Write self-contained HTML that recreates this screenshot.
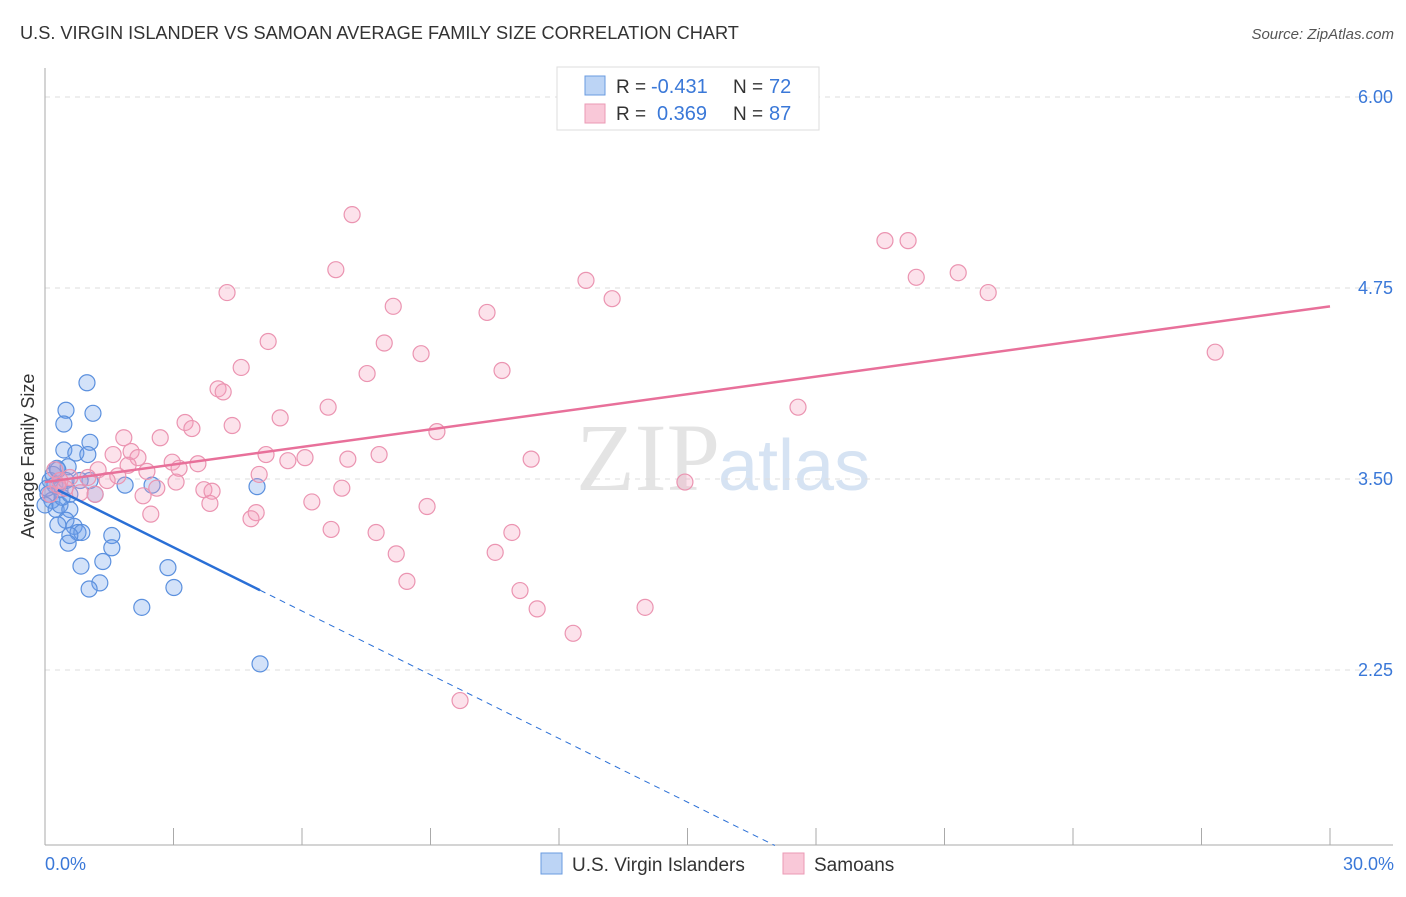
<!DOCTYPE html>
<html><head><meta charset="utf-8"><style>
body{margin:0;background:#fff;font-family:"Liberation Sans",sans-serif}
</style></head><body>
<svg id="chart" width="1406" height="892" xmlns="http://www.w3.org/2000/svg">
<text x="20" y="39" font-size="18.2" fill="#333">U.S. VIRGIN ISLANDER VS SAMOAN AVERAGE FAMILY SIZE CORRELATION CHART</text>
<text x="1394" y="39" font-size="15" fill="#555" font-style="italic" text-anchor="end">Source: ZipAtlas.com</text>
<text x="720" y="490" font-size="96" fill="#e4e4e4" text-anchor="end" font-family="Liberation Serif">ZIP</text>
<text x="718" y="490" font-size="72" fill="#d6e3f3">atlas</text>
<g id="grid"></g><g id="axes"></g><g id="pts"></g><g id="lines"></g>
<text transform="translate(34,456) rotate(-90)" font-size="18" fill="#333" text-anchor="middle">Average Family Size</text>
<text x="45" y="870" font-size="18" fill="#3a78d8">0.0%</text>
<text x="1394" y="870" font-size="18" fill="#3a78d8" text-anchor="end">30.0%</text>
<g>
<rect x="557" y="67" width="262" height="63" fill="#fff" stroke="#ddd"/>
<rect x="585" y="76" width="20" height="19" fill="#bcd4f5" stroke="#6a9be0"/>
<rect x="585" y="104" width="20" height="19" fill="#f9c8d8" stroke="#eb9ab5"/>
<text x="616" y="93" font-size="19" fill="#333">R =</text>
<text x="651" y="93" font-size="20" fill="#3a78d8">-0.431</text>
<text x="733" y="93" font-size="19" fill="#333">N =</text>
<text x="769" y="93" font-size="20" fill="#3a78d8">72</text>
<text x="616" y="120" font-size="19" fill="#333">R =</text>
<text x="657" y="120" font-size="20" fill="#3a78d8">0.369</text>
<text x="733" y="120" font-size="19" fill="#333">N =</text>
<text x="769" y="120" font-size="20" fill="#3a78d8">87</text>
</g>
<g>
<rect x="541" y="853" width="21" height="21" fill="#bcd4f5" stroke="#6a9be0"/>
<text x="572" y="871" font-size="19" fill="#333">U.S. Virgin Islanders</text>
<rect x="783" y="853" width="21" height="21" fill="#f9c8d8" stroke="#eb9ab5"/>
<text x="814" y="871" font-size="19" fill="#333">Samoans</text>
</g>
</svg>
<script>
const yTicks=[6.00,4.75,3.50,2.25];
const xTickVals=[0,3,6,9,12,15,18,21,24,27,30];
const blueX=[0.98,0.49,1.12,0.44,1.05,0.44,0.28,0.54,0.72,1.0,0.12,0.23,0.35,0.07,0.16,0.0,0.26,0.35,0.58,0.49,0.30,0.68,0.77,0.86,0.58,0.54,1.56,1.56,1.35,0.84,2.87,1.28,1.03,3.01,2.26,5.02,1.87,2.50,4.95,1.05,1.17,0.82,0.05,0.19,0.40,0.58,0.30,0.49];
const blueY=[4.13,3.95,3.93,3.86,3.74,3.69,3.57,3.58,3.67,3.66,3.49,3.46,3.43,3.40,3.36,3.33,3.30,3.33,3.30,3.23,3.20,3.19,3.15,3.15,3.13,3.08,3.13,3.05,2.96,2.93,2.92,2.82,2.78,2.79,2.66,2.29,3.46,3.46,3.45,3.49,3.40,3.49,3.44,3.53,3.38,3.40,3.56,3.49];
const pinkX=[7.17,6.79,4.25,8.13,5.21,7.92,8.78,4.58,7.52,4.04,4.16,4.37,3.27,3.43,2.69,1.84,2.01,2.17,1.59,5.49,6.61,5.16,2.97,3.57,3.13,2.38,1.94,1.24,1.70,1.45,1.0,0.58,0.82,1.17,2.61,3.06,3.71,3.90,3.85,2.29,2.47,5.00,4.93,4.81,5.67,6.07,7.07,7.80,6.23,6.93,6.68,7.73,8.20,8.45,8.92,9.15,10.32,10.67,11.35,10.90,10.51,11.09,11.49,12.33,14.01,9.69,12.63,13.24,14.94,17.58,19.61,20.15,20.34,21.32,22.02,27.32,0.23,0.35,0.47,0.12,0.30];
const pinkY=[5.23,4.87,4.72,4.63,4.40,4.39,4.32,4.23,4.19,4.09,4.07,3.85,3.87,3.83,3.77,3.77,3.68,3.64,3.66,3.90,3.97,3.66,3.61,3.60,3.57,3.55,3.59,3.56,3.52,3.49,3.51,3.51,3.41,3.40,3.44,3.48,3.43,3.42,3.34,3.39,3.27,3.53,3.28,3.24,3.62,3.64,3.63,3.66,3.35,3.44,3.17,3.15,3.01,2.83,3.32,3.81,4.59,4.21,3.63,3.15,3.02,2.77,2.65,2.49,2.66,2.05,4.80,4.68,3.48,3.97,5.06,5.06,4.82,4.85,4.72,4.33,3.56,3.49,3.44,3.40,3.46];
const pinkTrend=[3.48,4.63];
const blueTrend=[3.47,-0.139];
const blueSolidEnd=5.02, blueDashEnd=17.04;

const NS="http://www.w3.org/2000/svg";
const X=v=>45+v*(1285/30);
const Y=v=>97+(6-v)*152.8;
function mk(tag,attrs,parent){const e=document.createElementNS(NS,tag);for(const k in attrs)e.setAttribute(k,attrs[k]);document.getElementById(parent).appendChild(e);return e;}
yTicks.forEach(t=>{
 const l=mk('line',{x1:45,x2:1393,y1:Y(t),y2:Y(t),stroke:'#ddd','stroke-dasharray':'5,5'},'grid');
 
 
 const tx=mk('text',{x:1393,y:Y(t)+6,'font-size':18,fill:'#3a78d8','text-anchor':'end'},'grid');
 tx.textContent=t.toFixed(2);
 
 
});
let a=mk('line',{x1:45,x2:45,y1:68,y2:845,stroke:'#aaa'},'axes');


a=mk('line',{x1:45,x2:1393,y1:845,y2:845,stroke:'#aaa'},'axes');


xTickVals.forEach(t=>{
 const l=mk('line',{x1:X(t),x2:X(t),y1:828,y2:845,stroke:'#aaa'},'axes');
 
 
});
blueX.forEach((x,i)=>{
 const c=mk('circle',{cx:X(x),cy:Y(blueY[i]),r:8,fill:'rgba(110,160,235,0.3)',stroke:'#5b90de','stroke-width':1.2},'pts');
 
 
});
pinkX.forEach((x,i)=>{
 const c=mk('circle',{cx:X(x),cy:Y(pinkY[i]),r:8,fill:'rgba(245,160,190,0.3)',stroke:'#eb94b1','stroke-width':1.2},'pts');
 
 
});
let t=mk('line',{x1:X(0),y1:Y(pinkTrend[0]),x2:X(30),y2:Y(pinkTrend[1]),stroke:'#e8709a','stroke-width':2.5},'lines');


const bf=x=>blueTrend[0]+blueTrend[1]*x;
t=mk('line',{x1:X(0.3),y1:Y(bf(0.3)),x2:X(blueSolidEnd),y2:Y(bf(blueSolidEnd)),stroke:'#2a6fd6','stroke-width':2.5},'lines');


t=mk('line',{x1:X(blueSolidEnd),y1:Y(bf(blueSolidEnd)),x2:X(blueDashEnd),y2:Y(bf(blueDashEnd)),stroke:'#2a6fd6','stroke-width':1,'stroke-dasharray':'6,5'},'lines');


</script>
</body></html>
